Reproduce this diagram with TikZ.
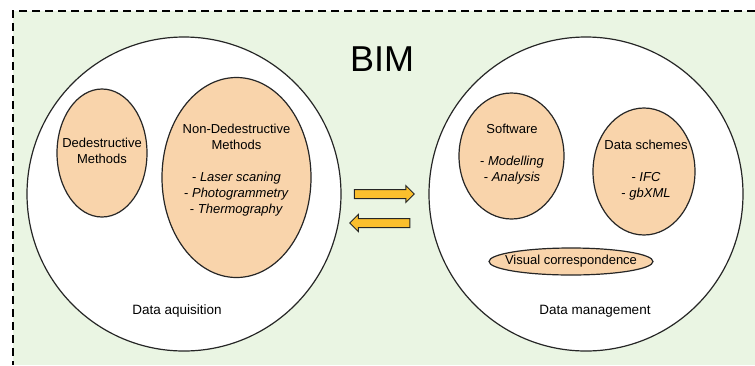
\documentclass[tikz,border=0pt]{standalone}
\usepackage{fontspec}
\setmainfont{Liberation Sans}
\usetikzlibrary{shapes.geometric,shapes.arrows,positioning}
\definecolor{bgcolor}{RGB}{234,245,227}
\definecolor{peach}{RGB}{249,212,171}
\definecolor{arrcolor}{RGB}{251,191,45}
\tikzset{
  % dashed frame round the whole BIM area
  frameln/.style={dash pattern=on 8pt off 5pt, line width=2pt},
  % the two big white areas
  areacirc/.style={circle, draw=black!85, line width=1.2pt, fill=white,
    minimum size=314pt, inner sep=0pt},
  % peach sub-topics and their texts
  topicell/.style={ellipse, draw=black!85, line width=1.2pt, fill=peach, inner sep=0pt},
  topictext/.style={align=center, inner sep=0pt, font=\fontsize{13}{16}\selectfont},
  % labels at the foot of the areas
  arealabel/.style={inner sep=0pt, font=\fontsize{13.5}{16}\selectfont},
  % exchange arrows between the areas
  xarrow/.style={single arrow, draw=black!85, line width=1pt, fill=arrcolor,
    minimum height=60pt, inner xsep=0pt, inner ysep=4pt, single arrow head extend=4pt},
}

\begin{document}
\begin{tikzpicture}[x=1pt,y=-1pt]
    \useasboundingbox (0,0) rectangle (755,365);
    % frame, open to the right and bottom
    \fill[bgcolor] (13,11) rectangle (755,365);
    \draw[frameln] (755,11) -- (13,11) -- (13,365);
    \node[inner sep=0pt, font=\fontsize{36}{40}\selectfont] (bim) at (382,59.5) {BIM};
    % Data aquisition
    \node[areacirc] (acq) at (184,194) {};
    \node[topicell, minimum width=90pt, minimum height=128pt] (destr) at (102,153) {};
    \node[topictext] (destrtxt) at (102,151) {Dedestructive\\Methods};
    \node[topicell, minimum width=149pt, minimum height=200pt] (nondestr) at (236.5,177.5) {};
    \node[topictext] (nondestrtxt) at (236.5,170) {Non-Dedestructive\\Methods\\[16pt]
      - \textit{Laser scaning}\\- \textit{Photogrammetry}\\- \textit{Thermography}};
    \node[arealabel] (acqlbl) at (177,311) {Data aquisition};
    % Data management
    \node[areacirc] (mgmt) at (586,194) {};
    \node[topicell, minimum width=105pt, minimum height=126pt] (soft) at (511.5,156) {};
    \node[topictext] (softtxt) at (512,154) {Software\\[16pt]- \textit{Modelling}\\- \textit{Analysis}};
    \node[topicell, minimum width=102pt, minimum height=127pt] (schemes) at (644,171.5) {};
    \node[topictext] (schemestxt) at (646,170.5) {Data schemes\\[16pt]- \textit{IFC}\\- \textit{gbXML}};
    \node[topicell, minimum width=164pt, minimum height=27pt] (visual) at (571,261.5) {};
    \node[topictext] (visualtxt) at (571,261.5) {Visual correspondence};
    \node[arealabel] (mgmtlbl) at (595,311) {Data management};
    % exchange between the two areas
    \node[xarrow] (toright) at (382,194) {};
    \node[xarrow, shape border rotate=180] (toleft) at (382,223) {};
\end{tikzpicture}
\end{document}
